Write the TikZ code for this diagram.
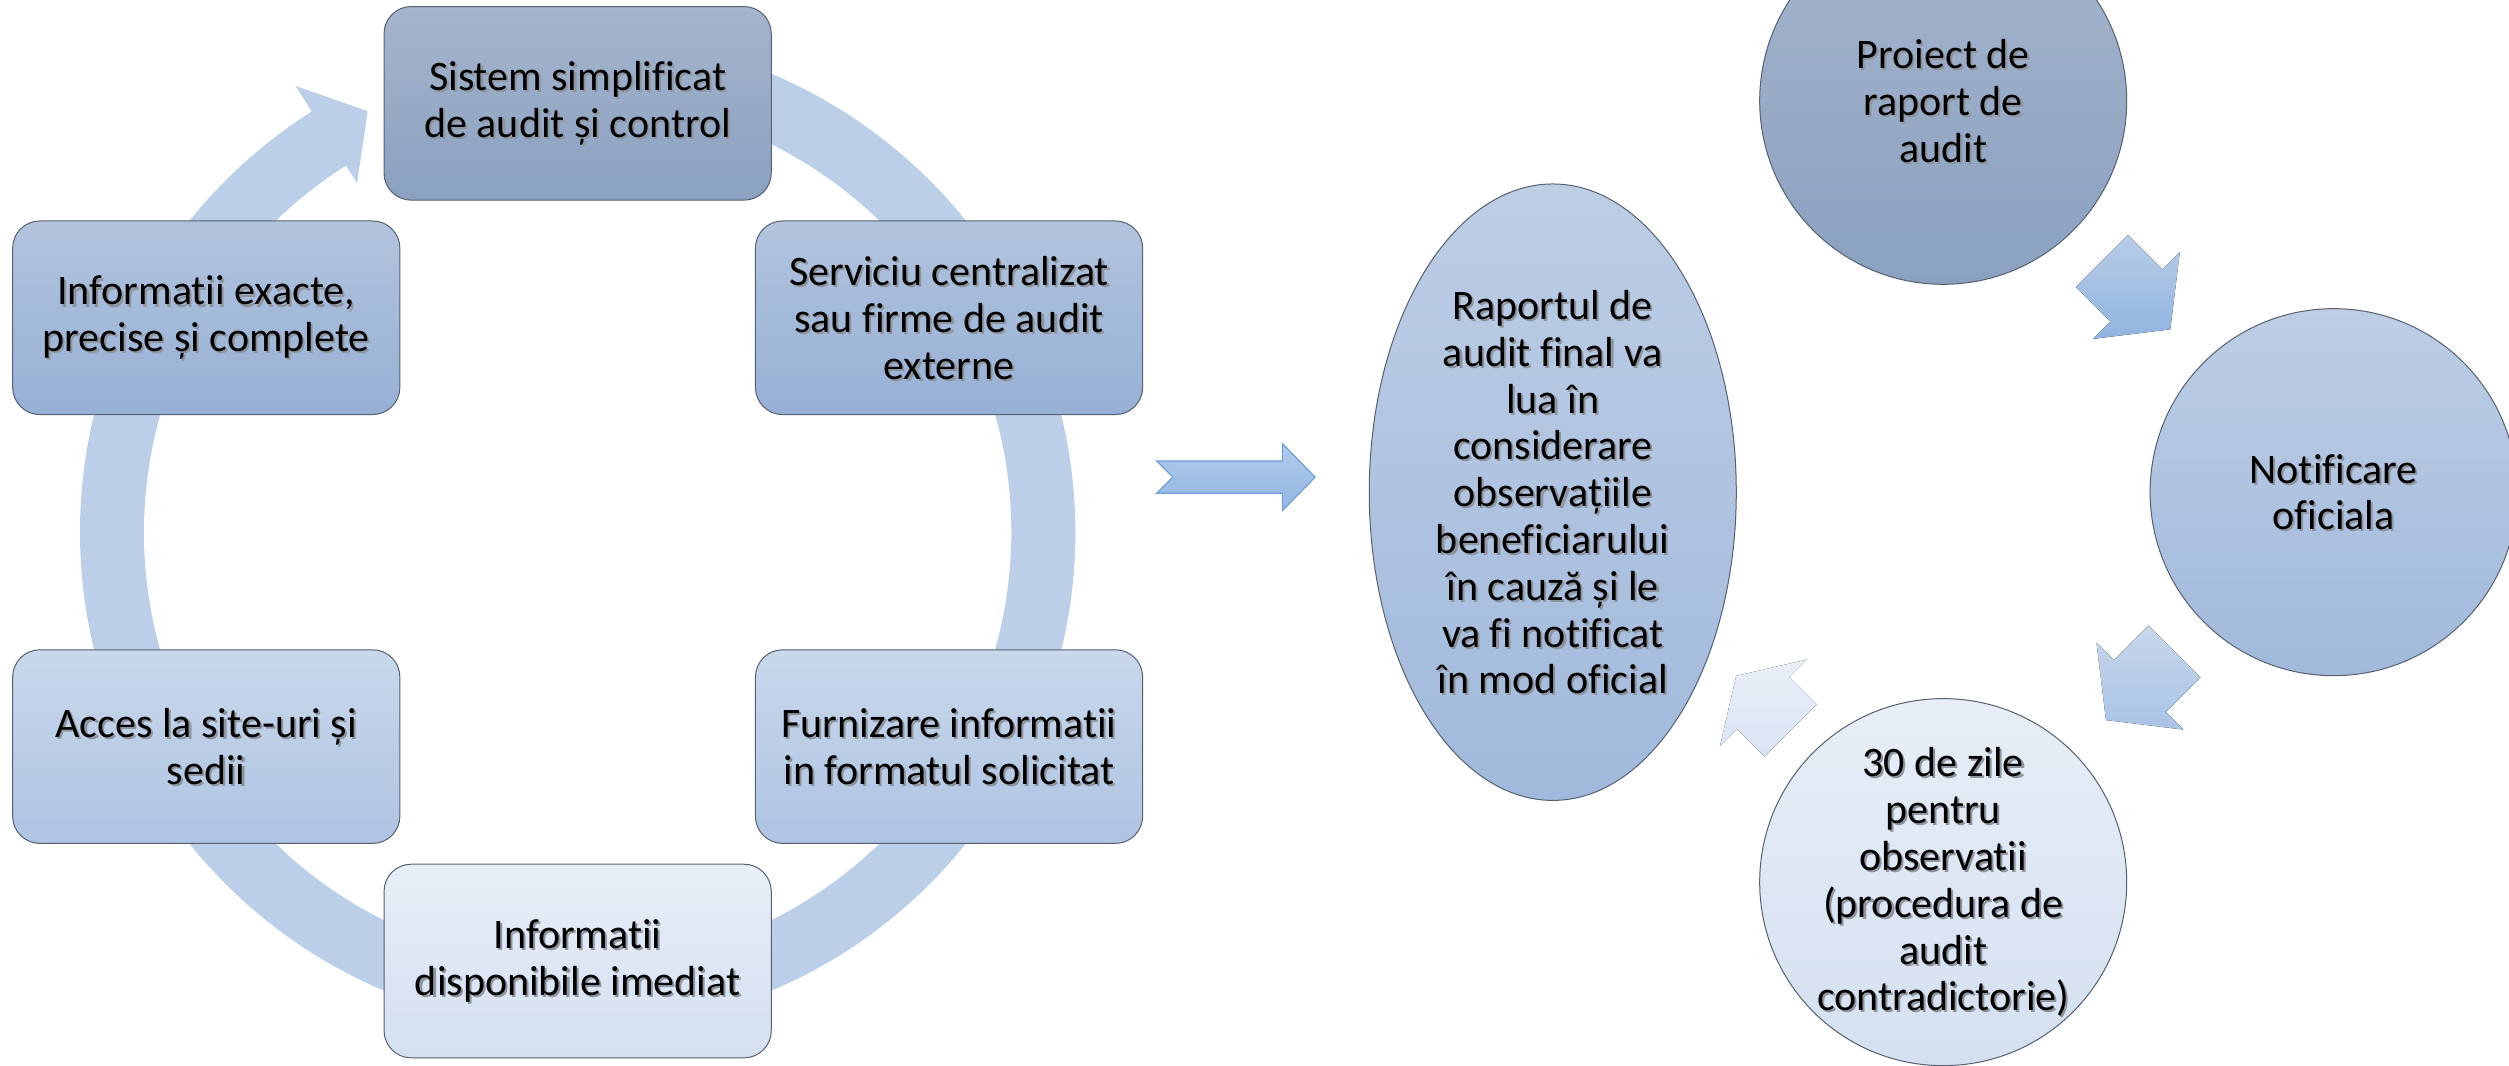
\documentclass[tikz,border=0pt]{standalone}
\usepackage{fontspec}
\setmainfont{Carlito}[Ligatures=NoCommon]
\usetikzlibrary{shapes.geometric}
\definecolor{ringc}{HTML}{BCCFE8}
\definecolor{bordc}{HTML}{56606E}
\definecolor{shadowc}{HTML}{8E959E}
\definecolor{dkt}{HTML}{A5B5CD}\definecolor{dkb}{HTML}{8AA1C0}
\definecolor{mdt}{HTML}{B2C4DE}\definecolor{mdb}{HTML}{96B0D5}
\definecolor{lgt}{HTML}{C9D8EB}\definecolor{lgb}{HTML}{AEC4E3}
\definecolor{vlt}{HTML}{E7EEF7}\definecolor{vlb}{HTML}{D4E0F1}
\definecolor{elt}{HTML}{BDCEE5}\definecolor{elb}{HTML}{A1B9DC}
\definecolor{art}{HTML}{B0C9EA}\definecolor{arb}{HTML}{94B7E3}
\definecolor{ard}{HTML}{6E9ED8}
\definecolor{aAt}{HTML}{B8CDE8}\definecolor{aAb}{HTML}{90B4E0}
\definecolor{aBt}{HTML}{C8D7EB}\definecolor{aBb}{HTML}{A9C3E6}
\definecolor{aCt}{HTML}{E9EFF8}\definecolor{aCb}{HTML}{D9E4F3}
\newcommand\shtxt[2]{%
  \node[txt,text=shadowc] (#1-s) at ([shift={(1.3,-1.3)}]#1) {#2};
  \node[txt] (#1-t) at (#1) {#2};}
\begin{document}
\begin{tikzpicture}[x=0.8pt,y=0.8pt,
  box/.style={rounded corners=13.6pt, minimum width=193.6pt, minimum height=96.8pt,
    draw=bordc, line width=0.5pt, inner sep=0pt},
  circ/.style={circle, minimum size=183.5pt, draw=bordc, line width=0.5pt, inner sep=0pt},
  ell/.style={ellipse, minimum width=183.5pt, minimum height=308.2pt, draw=bordc,
    line width=0.5pt, inner sep=0pt},
  txt/.style={align=center, inner sep=0pt, font=\fontsize{21}{23.4}\selectfont},
  arA/.style={shift={(1335.1,480.95)},rotate=-45},
  arB/.style={shift={(1337.35,236.8)},rotate=-135},
  arC/.style={shift={(1102,226.2)},rotate=135},
  marrow/.style={draw=ard, line width=0.6pt, top color=art, bottom color=arb}]
\clip (0,0) rectangle (1568,665.6);
% ---------- left cycle ----------
\coordinate (lc) at (361,333);
\fill[ringc] ([shift={(lc)}]100:311) arc[start angle=100,end angle=-238,radius=311]
  -- ([shift={(lc)}]122:271) arc[start angle=-238,end angle=100,radius=271] -- cycle;
\fill[ringc] ([shift={(lc)}]122.3:330) -- ([shift={(lc)}]116.5:294)
  -- ([shift={(lc)}]122.3:258) -- cycle;
\node[box,top color=dkt,bottom color=dkb] (b1) at (361,601) {};
\node[box,top color=mdt,bottom color=mdb] (b2) at (593.1,467) {};
\node[box,top color=lgt,bottom color=lgb] (b3) at (593.1,199) {};
\node[box,top color=vlt,bottom color=vlb] (b4) at (361,65) {};
\node[box,top color=lgt,bottom color=lgb] (b5) at (128.9,199) {};
\node[box,top color=mdt,bottom color=mdb] (b6) at (128.9,467) {};
\shtxt{b1}{Sistem simplificat\\de audit și control}
\shtxt{b2}{Serviciu centralizat\\sau firme de audit\\externe}
\shtxt{b3}{Furnizare informatii\\in formatul solicitat}
\shtxt{b4}{Informatii\\disponibile imediat}
\shtxt{b5}{Acces la site-uri și\\sedii}
\shtxt{b6}{Informatii exacte,\\precise și complete}
% ---------- middle arrow ----------
\coordinate (mtail) at (722.9,367.4);
\coordinate (mtip) at (821.9,367.4);
\draw[marrow] ([shift={(mtail)}]0,10.1) -- ([shift={(mtip)}]-20.5,10.1)
  -- ([shift={(mtip)}]-20.5,21) -- (mtip) -- ([shift={(mtip)}]-20.5,-21)
  -- ([shift={(mtip)}]-20.5,-10.1) -- ([shift={(mtail)}]0,-10.1)
  -- ([shift={(mtail)}]10,0) -- cycle;
% ---------- right cycle ----------
\node[ell,top color=elt,bottom color=elb] (rap) at (970.4,358) {};
\node[circ,top color=dkt,bottom color=dkb] (pr) at (1214.4,602.6) {};
\node[circ,top color=elt,bottom color=elb] (nt) at (1458.4,358) {};
\node[circ,top color=vlt,bottom color=vlb] (zl) at (1214.4,114.3) {};
\fill[top color=aAt,bottom color=aAb] ([arA]-30.5,23) -- ([arA]0,23) -- ([arA]0,38.4)
  -- ([arA]30,0) -- ([arA]0,-38.4) -- ([arA]0,-23) -- ([arA]-30.5,-23) -- cycle;
\fill[top color=aBt,bottom color=aBb] ([arB]-30.5,23) -- ([arB]0,23) -- ([arB]0,38.4)
  -- ([arB]30,0) -- ([arB]0,-38.4) -- ([arB]0,-23) -- ([arB]-30.5,-23) -- cycle;
\fill[top color=aCt,bottom color=aCb] ([arC]-24,23) -- ([arC]0,23) -- ([arC]0,38.4)
  -- ([arC]24,0) -- ([arC]0,-38.4) -- ([arC]0,-23) -- ([arC]-24,-23) -- cycle;
\shtxt{rap}{Raportul de\\audit final va\\lua în\\considerare\\observațiile\\beneficiarului\\în cauză și le\\va fi notificat\\în mod oficial}
\shtxt{pr}{Proiect de\\raport de\\audit}
\shtxt{nt}{Notificare\\oficiala}
\shtxt{zl}{30 de zile\\pentru\\observatii\\(procedura de\\audit\\contradictorie)}
\end{tikzpicture}
\end{document}
